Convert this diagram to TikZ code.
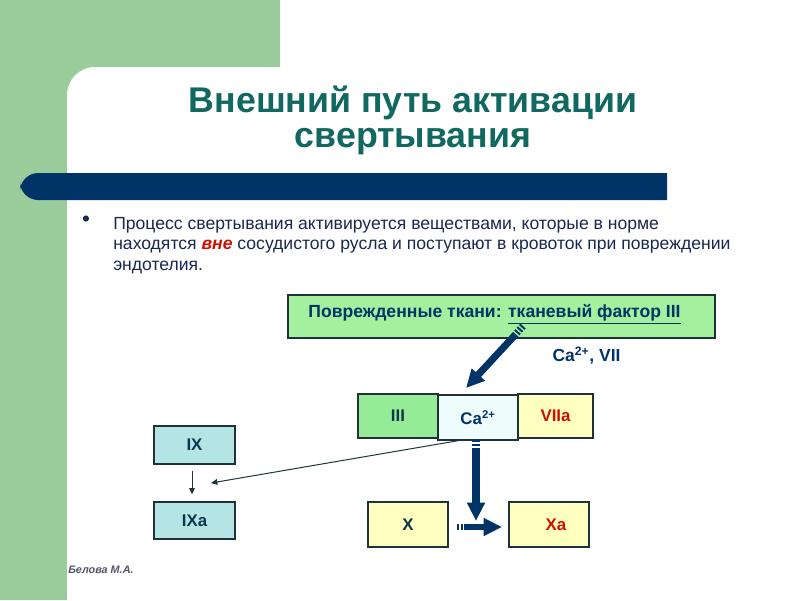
\documentclass[tikz,border=0pt]{standalone}
\usepackage{fontspec}
\setmainfont{Liberation Sans}
\usetikzlibrary{arrows.meta}
\definecolor{slidegreen}{RGB}{155,204,155}
\definecolor{barblue}{RGB}{0,51,102}
\definecolor{titleteal}{RGB}{16,104,96}
\definecolor{bodynavy}{RGB}{25,40,80}
\definecolor{labelteal}{RGB}{10,55,75}
\definecolor{redtext}{RGB}{204,17,0}
\definecolor{tissuegreen}{RGB}{163,240,158}
\definecolor{threegreen}{RGB}{150,236,150}
\definecolor{calight}{RGB}{238,252,252}
\definecolor{factoryellow}{RGB}{255,255,192}
\definecolor{ninecyan}{RGB}{180,228,228}
\definecolor{boxedge}{RGB}{30,50,55}
\tikzset{
  factor/.style={draw=boxedge,line width=.9pt,text depth=0pt,font=\fontsize{12pt}{14pt}\selectfont\bfseries,text=labelteal},
  bigarrow/.style={barblue,line width=5pt,-{Triangle[length=13pt,width=12pt]}},
  arrowtail/.style={barblue,line width=5pt,dash pattern=on 1.4pt off 1.2pt},
  thinarrow/.style={boxedge,line width=.7pt,-{Triangle[length=4.5pt,width=4pt]}}
}
\begin{document}
\begin{tikzpicture}[x=0.025cm,y=-0.025cm]
\useasboundingbox (0,0) rectangle (800,600);
\fill[slidegreen]
      (0,0) rectangle (280,67)
      (0,0) rectangle (67,600)
      (67,67) rectangle (95,95);
\fill[white,rounded corners=20] (67,67) rectangle (830,630);
\fill[barblue]
      (667,173) [rounded corners=13] -- (20,173) -- (20,200) [sharp corners] -- (667,200) -- cycle;
\path[titleteal,font=\fontsize{25.4pt}{30pt}\selectfont\bfseries]
      (413,112) node [anchor=base] (title1) {Внешний путь активации}
      (413,147) node [anchor=base] (title2) {свертывания};
\path[bodynavy,font=\fontsize{12.5pt}{15pt}\selectfont]
      ( 86,221) node [font=\fontsize{16pt}{16pt}\selectfont] (dot) {•}
      (113,229) node [anchor=base west,inner sep=0] (line1) {Процесс свертывания активируется веществами, которые в норме}
      (113,249.5) node [anchor=base west,inner sep=0] (line2) {находятся \textcolor{redtext}{\bfseries\itshape вне} сосудистого русла и поступают в кровоток при повреждении}
      (113,270) node [anchor=base west,inner sep=0] (line3) {эндотелия.};
\node[factor,fill=tissuegreen,minimum width=10.675cm,minimum height=1.075cm,text=barblue,text depth=8pt,font=\fontsize{12.5pt}{15pt}\selectfont\bfseries] (tissue) at (501.5,316.5)
      {Поврежденные ткани: \underline{тканевый фактор III}\hspace*{10pt}};
\node[font=\fontsize{12.4pt}{14pt}\selectfont\bfseries,text=barblue] (cavii) at (586.5,356) {Ca\textsuperscript{2+}, VII};
\node[factor,fill=threegreen,minimum width=2cm,minimum height=1.1cm]            (three) at (398,416)   {III};
\node[factor,fill=factoryellow,minimum width=1.875cm,minimum height=1.1cm,text=redtext] (sevena) at (555.5,416) {VIIa};
\node[factor,fill=calight,minimum width=2cm,minimum height=1.125cm,text=barblue] (ca) at (478,417.5) {Ca\textsuperscript{2+}};
\node[factor,fill=ninecyan,minimum width=2.025cm,minimum height=.95cm]          (nine)  at (194.5,445)   {IX};
\node[factor,fill=ninecyan,minimum width=2.025cm,minimum height=.925cm]         (ninea) at (194.5,520.5) {IXa};
\node[factor,fill=factoryellow,minimum width=2cm,minimum height=1.125cm]        (ten)   at (408,524.5)   {X};
\node[factor,fill=factoryellow,minimum width=2cm,minimum height=1.125cm,text=redtext] (tena) at (549,524.5) {\hspace*{10pt}Xa};
\coordinate (tissueout) at (523,326);
\coordinate (tissuedash) at (515,335);
\coordinate (catop) at (466,388);
\coordinate (cafoot) at (462,440);
\coordinate (ninehit) at (211,483);
\coordinate (caout) at (476,440);
\coordinate (cadash) at (476,446);
\coordinate (tenhit) at (476,521);
\coordinate (tenout) at (457,527);
\coordinate (tendash) at (465,527);
\coordinate (tenahit) at (502,527);
\draw[arrowtail] (tissueout) -- (tissuedash);
\draw[bigarrow]  (tissuedash) -- (catop);
\draw[arrowtail] (caout) -- (cadash);
\draw[bigarrow]  (cadash) ++(0,1.5) -- (tenhit);
\draw[arrowtail,line width=4pt] (tenout) -- (tendash);
\draw[bigarrow,line width=4pt]  (tendash) -- (tenahit);
\draw[thinarrow] (nine.south) ++(-2.5,6) -- ([xshift=-2.5*0.025cm,yshift=5pt]ninea.north);
\draw[thinarrow] (cafoot) -- (ninehit);
\node[font=\fontsize{7.7pt}{9pt}\selectfont\bfseries\itshape,text={rgb,255:red,85;green,85;blue,106},anchor=west,inner sep=0] (author) at (68,570) {Белова М.А.};
\end{tikzpicture}
\end{document}
